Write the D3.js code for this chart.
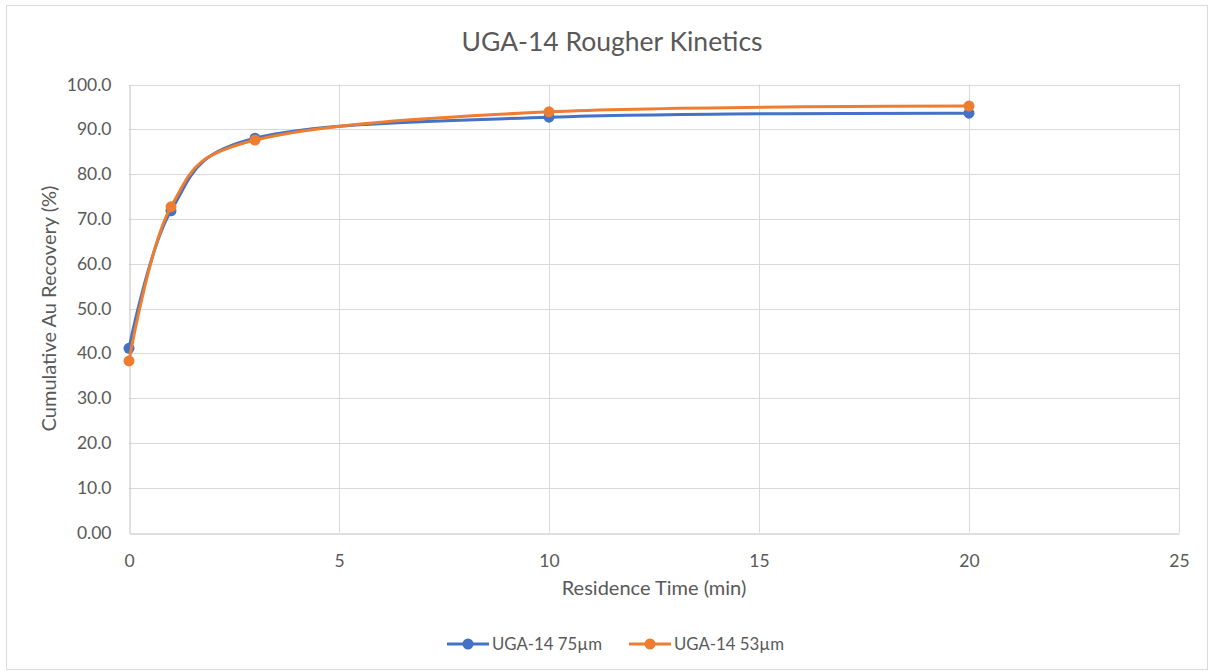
<!DOCTYPE html>
<html>
<head>
<meta charset="utf-8">
<script src="https://cdn.jsdelivr.net/npm/d3@7"></script>
<style>
  html, body { margin: 0; padding: 0; background: #fff; }
  text { font-family: Lato, "Open Sans", sans-serif; fill: #595959; }
</style>
</head>
<body>
<div id="svg-container"></div>
<script>
// data
const times = [0, 1, 3, 10, 20];
const rec75 = [41.1, 71.8, 88.0, 92.7, 93.6];
const rec53 = [38.3, 72.7, 87.6, 93.9, 95.2];
const seriesNames = ["UGA-14 75µm", "UGA-14 53µm"];
const seriesColors = ["#4472C4", "#ED7D31"];
const yTicks = [0, 10, 20, 30, 40, 50, 60, 70, 80, 90, 100];
const yTickLabels = ["0.00", "10.0", "20.0", "30.0", "40.0", "50.0", "60.0", "70.0", "80.0", "90.0", "100.0"];
const xTicks = [0, 5, 10, 15, 20, 25];

const width = 1214, height = 672;
const margin = { top: 84.5, right: 35, bottom: 139.5, left: 129 };

const svg = d3.select("#svg-container").append("svg")
  .attr("width", width).attr("height", height);

// chart border
svg.append("rect")
  .attr("x", 6.5).attr("y", 5.5)
  .attr("width", width - 13).attr("height", height - 8)
  .attr("fill", "#fff").attr("stroke", "#D9D9D9");

const xScale = d3.scaleLinear().domain([0, 25]).range([margin.left, width - margin.right]);
const yScale = d3.scaleLinear().domain([0, 100]).range([height - margin.bottom, margin.top]);

// grid
svg.append("g").selectAll("line").data(yTicks.slice(1)).join("line")
  .attr("x1", margin.left).attr("x2", width - margin.right)
  .attr("y1", d => Math.round(yScale(d)) + 0.5).attr("y2", d => Math.round(yScale(d)) + 0.5)
  .attr("stroke", "#D9D9D9");
svg.append("g").selectAll("line").data(xTicks.slice(1)).join("line")
  .attr("y1", margin.top).attr("y2", height - margin.bottom)
  .attr("x1", d => Math.round(xScale(d)) + 0.5).attr("x2", d => Math.round(xScale(d)) + 0.5)
  .attr("stroke", "#D9D9D9");

// axes
const xAxis = d3.axisBottom(xScale).tickValues(xTicks).tickSize(0).tickPadding(21);
const yAxis = d3.axisLeft(yScale).tickValues(yTicks).tickSize(0).tickPadding(18)
  .tickFormat((d, i) => yTickLabels[i]);

const gx = svg.append("g")
  .attr("transform", `translate(0,${Math.round(yScale(0)) + 0.5})`)
  .call(xAxis);
gx.select(".domain").attr("stroke", "#BFBFBF");
gx.selectAll("text").style("font-size", "17.5px").attr("fill", "#595959");

const gy = svg.append("g")
  .attr("transform", `translate(${Math.round(xScale(0)) + 0.5},0)`)
  .call(yAxis);
gy.select(".domain").attr("stroke", "#BFBFBF");
gy.selectAll("text").style("font-size", "17.5px").attr("fill", "#595959");

// title & units
svg.append("text")
  .attr("x", 612).attr("y", 51)
  .attr("text-anchor", "middle")
  .style("font-size", "26.5px")
  .text("UGA-14 Rougher Kinetics");

svg.append("text")
  .attr("x", (xScale(0) + xScale(25)) / 2).attr("y", 595)
  .attr("text-anchor", "middle")
  .style("font-size", "20px")
  .text("Residence Time (min)");

svg.append("text")
  .attr("transform", `translate(56, ${(yScale(0) + yScale(100)) / 2}) rotate(-90)`)
  .attr("text-anchor", "middle")
  .style("font-size", "20px")
  .text("Cumulative Au Recovery (%)");

// series
const series = [rec75, rec53].map((vals, i) => ({
  name: seriesNames[i],
  color: seriesColors[i],
  values: times.map((t, j) => ({ t, v: vals[j] }))
}));

const line = d3.line()
  .x(d => xScale(d.t))
  .y(d => yScale(d.v))
  .curve(d3.curveCardinal.tension(0));

series.forEach(s => {
  svg.append("path")
    .datum(s.values)
    .attr("d", line)
    .attr("fill", "none")
    .attr("stroke", s.color)
    .attr("stroke-width", 3)
    .attr("stroke-linecap", "round");
  svg.append("g").selectAll("circle").data(s.values).join("circle")
    .attr("cx", d => xScale(d.t))
    .attr("cy", d => yScale(d.v))
    .attr("r", 5.5)
    .attr("fill", s.color);
});

// legend
const legendX = [447, 629];
const legend = svg.append("g").selectAll("g").data(series).join("g")
  .attr("transform", (d, i) => `translate(${legendX[i]}, 644)`);
legend.append("line")
  .attr("x1", 0).attr("x2", 42)
  .attr("stroke", d => d.color).attr("stroke-width", 3);
legend.append("circle")
  .attr("cx", 21).attr("r", 5.5).attr("fill", d => d.color);
legend.append("text")
  .attr("x", 45).attr("y", 6)
  .style("font-size", "16.8px")
  .text(d => d.name);
</script>
</body>
</html>
